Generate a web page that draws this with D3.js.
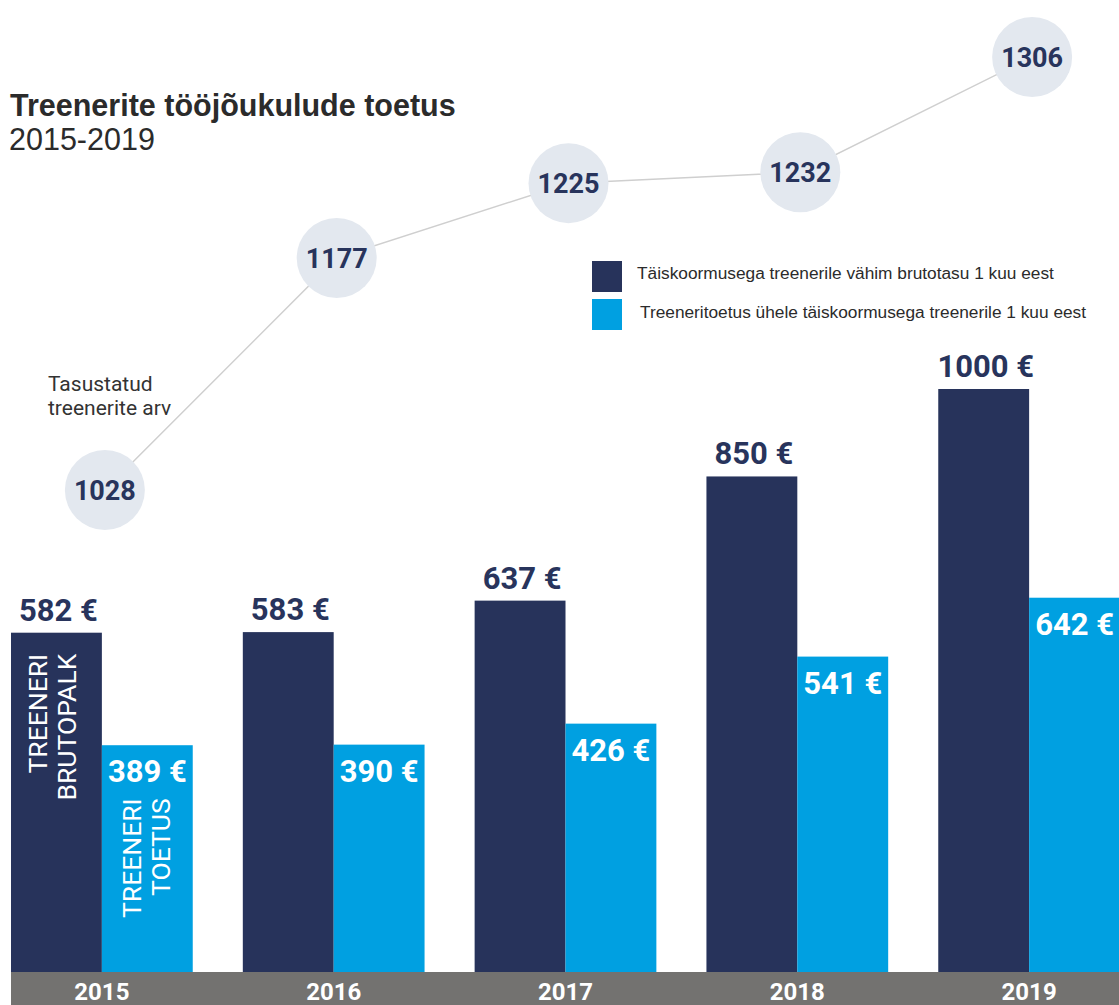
<!DOCTYPE html>
<html>
<head>
<meta charset="utf-8">
<script src="https://cdn.jsdelivr.net/npm/d3@7"></script>
<style>
  body { margin: 0; background: #fff; }
  svg { display: block; }
  .val { font-family: Roboto, sans-serif; font-weight: 700; font-size: 31px; }
  .cnt { font-family: Roboto, sans-serif; font-weight: 700; font-size: 27px; fill: #28345c; }
  .vert { font-family: Roboto, sans-serif; font-size: 26.5px; fill: #fff; }
</style>
</head>
<body>
<div id="chart"></div>
<script>
// data
const years = ['2015', '2016', '2017', '2018', '2019'];
const brutoPalk = [582, 583, 637, 850, 1000];
const toetus = [389, 390, 426, 541, 642];
const treenereid = [1028, 1177, 1225, 1232, 1306];
const seriesNames = [
  'Täiskoormusega treenerile vähim brutotasu 1 kuu eest',
  'Treeneritoetus ühele täiskoormusega treenerile 1 kuu eest'
];

const W = 1119, H = 1005;
const navy = '#27335b', cyan = '#00a0e1';

const svg = d3.select('#chart')
  .append('svg')
  .attr('width', W)
  .attr('height', H);

const x = d3.scaleBand()
  .domain(years)
  .range([11, 1120])
  .paddingInner(0.216)
  .paddingOuter(0)
  .align(0);

const half = x.bandwidth() / 2;

const y = d3.scaleLinear()
  .domain([0, 1000])
  .range([972, 389]);

// count line scale
const yc = d3.scaleLinear()
  .domain([1028, 1306])
  .range([490, 57]);

const rows = years.map((yr, i) => ({ yr, a: brutoPalk[i], b: toetus[i], c: treenereid[i] }));

// title
svg.append('text')
  .attr('x', 10).attr('y', 116)
  .style('font-family', '"Liberation Sans", Arial, sans-serif')
  .style('font-weight', 700).style('font-size', '30.5px')
  .attr('fill', '#2b2b2b')
  .text('Treenerite tööjõukulude toetus');
svg.append('text')
  .attr('x', 9).attr('y', 150)
  .style('font-family', '"Liberation Sans", Arial, sans-serif')
  .style('font-size', '30.5px')
  .attr('fill', '#2b2b2b')
  .text('2015-2019');

// legend
const leg = svg.append('g');
[navy, cyan].forEach((c, i) => {
  leg.append('rect')
    .attr('x', 592).attr('y', 261 + i * 38)
    .attr('width', 30).attr('height', 31)
    .attr('fill', c);
  leg.append('text')
    .attr('x', 637 + i * 3).attr('y', 279 + i * 39)
    .style('font-family', '"Liberation Sans", Arial, sans-serif')
    .style('font-size', '17.3px')
    .attr('fill', '#2b2b2b')
    .text(seriesNames[i]);
});

// bars
const grp = svg.selectAll('g.year').data(rows).enter()
  .append('g')
  .attr('class', 'year')
  .attr('transform', d => `translate(${x(d.yr)},0)`);

grp.append('rect')
  .attr('x', 0).attr('width', half)
  .attr('y', d => y(d.a)).attr('height', d => y(0) - y(d.a))
  .attr('fill', navy);

grp.append('rect')
  .attr('x', half).attr('width', half)
  .attr('y', d => y(d.b)).attr('height', d => y(0) - y(d.b))
  .attr('fill', cyan);

grp.append('text')
  .attr('class', 'val')
  .attr('x', half / 2 + 2).attr('y', d => y(d.a) - 12)
  .attr('text-anchor', 'middle')
  .attr('fill', '#28345c')
  .text(d => d.a + ' €');

grp.append('text')
  .attr('class', 'val')
  .attr('x', half * 1.5).attr('y', d => y(d.b) + 37)
  .attr('text-anchor', 'middle')
  .attr('fill', '#fff')
  .text(d => d.b + ' €');

// vertical labels inside the first bars
const first = rows[0];
function vert(lines, bx, top) {
  lines.forEach((t, i) => {
    svg.append('text')
      .attr('class', 'vert')
      .attr('transform', `translate(${bx + 36 + i * 29},${top}) rotate(-90)`)
      .attr('text-anchor', 'end')
      .text(t);
  });
}
vert(['TREENERI', 'BRUTOPALK'], x(first.yr), y(first.a) + 21);
vert(['TREENERI', 'TOETUS'], x(first.yr) + half + 3, y(first.b) + 53);

// year band
svg.append('rect')
  .attr('x', 11).attr('y', y(0))
  .attr('width', W - 11).attr('height', H - y(0))
  .attr('fill', '#737270');

svg.selectAll('text.yr').data(rows).enter()
  .append('text')
  .attr('class', 'yr')
  .attr('x', d => x(d.yr) + half)
  .attr('y', 1000)
  .attr('text-anchor', 'middle')
  .style('font-family', 'Roboto, sans-serif')
  .style('font-weight', 700).style('font-size', '24px')
  .attr('fill', '#fff')
  .text(d => d.yr);

// count line + circles
const line = d3.line()
  .x(d => x(d.yr) + half + 3)
  .y(d => yc(d.c));

svg.append('path')
  .datum(rows)
  .attr('d', line)
  .attr('fill', 'none')
  .attr('stroke', '#cfcfcf')
  .attr('stroke-width', 1.5);

svg.selectAll('circle.cnt').data(rows).enter()
  .append('circle')
  .attr('cx', d => x(d.yr) + half + 3)
  .attr('cy', d => yc(d.c))
  .attr('r', 40)
  .attr('fill', '#e3e8ef');

svg.selectAll('text.cnt').data(rows).enter()
  .append('text')
  .attr('class', 'cnt')
  .attr('x', d => x(d.yr) + half + 3)
  .attr('y', d => yc(d.c) + 10)
  .attr('text-anchor', 'middle')
  .text(d => d.c);

svg.append('text')
  .attr('x', 48).attr('y', 391)
  .style('font-family', 'Roboto, sans-serif')
  .style('font-size', '21px')
  .attr('fill', '#333')
  .selectAll('tspan')
  .data(['Tasustatud', 'treenerite arv'])
  .enter().append('tspan')
  .attr('x', 48)
  .attr('dy', (d, i) => i ? 24 : 0)
  .text(d => d);
</script>
</body>
</html>
